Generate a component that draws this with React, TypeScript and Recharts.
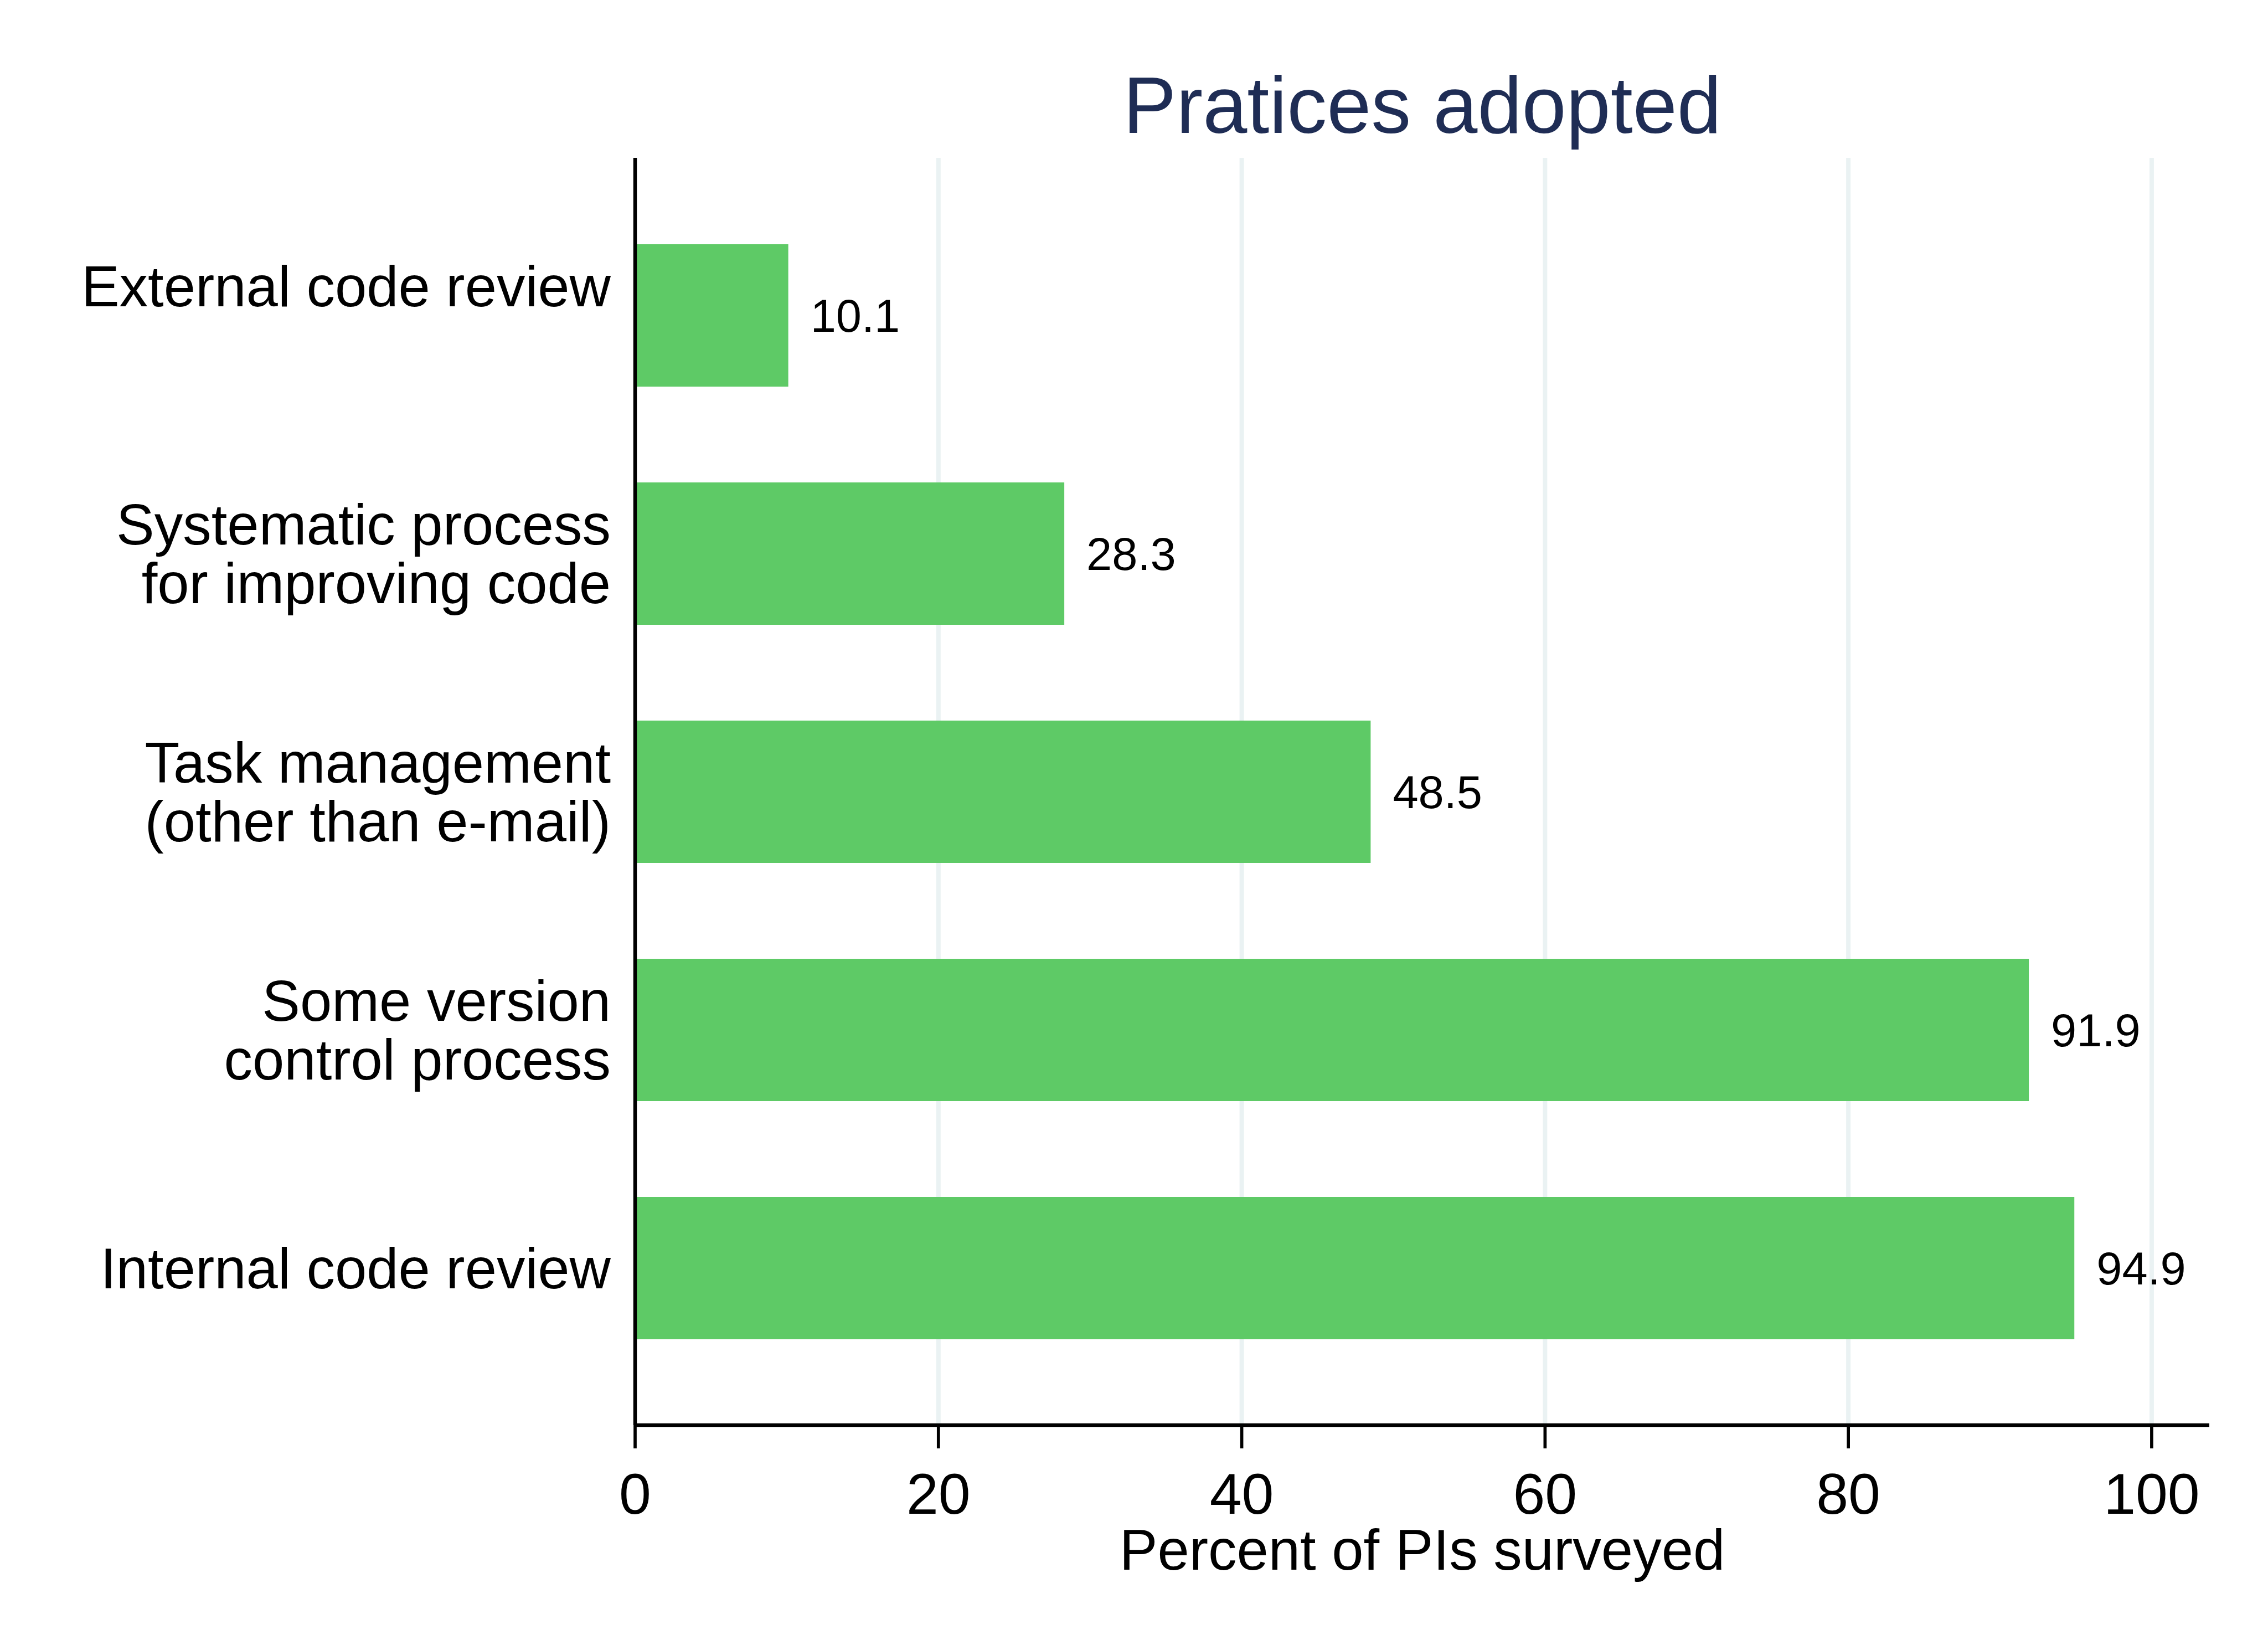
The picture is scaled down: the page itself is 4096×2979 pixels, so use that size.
import React from "react";
import { BarChart, Bar, XAxis, YAxis, CartesianGrid, LabelList } from "recharts";

const categories: string[][] = [
  ["External code review", ""],
  ["Systematic process", "for improving code"],
  ["Task management", "(other than e-mail)"],
  ["Some version", "control process"],
  ["Internal code review"],
];
const values: number[] = [10.1, 28.3, 48.5, 91.9, 94.9];
const xTicks: number[] = [0, 20, 40, 60, 80, 100];
const gridValues: number[] = [20, 40, 60, 80, 100];
const title = "Pratices adopted";
const xTitle = "Percent of PIs surveyed";

const data = categories.map((lines, i) => ({ name: lines.join("\n"), value: values[i] }));

const W = 4096;
const H = 2979;
const FONT = "'Liberation Sans', Arial, Helvetica, sans-serif";
const TICK_FS = 104;
const YLAB_FS = 103;
const LINE_H = 106;
const VAL_FS = 83;
const PLOT_LEFT = 1147;
const PLOT_RIGHT = 3990;
const PLOT_TOP = 285;
const PLOT_BOTTOM = 2573;
const CENTER_X = (PLOT_LEFT + PLOT_RIGHT) / 2;

const YTick = (props: any) => {
  const { y, payload } = props;
  const lines: string[] = String(payload.value).split("\n");
  const n = lines.length;
  const first = y - ((n - 1) * LINE_H) / 2 + 0.358 * YLAB_FS;
  return (
    <text textAnchor="end" fontFamily={FONT} fontSize={YLAB_FS} fill="#000">
      {lines.map((l, i) => (
        <tspan key={i} x={1103} y={first + i * LINE_H}>
          {l}
        </tspan>
      ))}
    </text>
  );
};

const XTick = (props: any) => {
  const { x, payload } = props;
  return (
    <text x={x} y={2733} textAnchor="middle" fontFamily={FONT} fontSize={TICK_FS} fill="#000">
      {payload.value}
    </text>
  );
};

const ValueLabel = (props: any) => {
  const { x, y, width, height, value } = props;
  return (
    <text
      x={x + width + 40}
      y={y + height / 2 + 0.358 * VAL_FS}
      textAnchor="start"
      fontFamily={FONT}
      fontSize={VAL_FS}
      fill="#000"
    >
      {Number(value).toFixed(1)}
    </text>
  );
};

export default function App() {
  return (
    <div style={{ position: "absolute", left: 0, top: 0, width: W, height: H, background: "#fff" }}>
      <BarChart
        width={W}
        height={H}
        data={data}
        layout="vertical"
        margin={{ top: PLOT_TOP, right: W - PLOT_RIGHT, bottom: 0, left: 0 }}
      >
        <CartesianGrid
          horizontal={false}
          vertical={true}
          verticalValues={gridValues}
          stroke="#EAF2F3"
          strokeWidth={8}
        />
        <XAxis
          type="number"
          domain={[0, 103.8]}
          ticks={xTicks}
          allowDataOverflow
          height={H - PLOT_BOTTOM}
          axisLine={{ stroke: "#000", strokeWidth: 6.3 }}
          tickLine={{ stroke: "#000", strokeWidth: 5.7 }}
          tickSize={42}
          tick={<XTick />}
          interval={0}
        />
        <YAxis
          type="category"
          dataKey="name"
          width={PLOT_LEFT}
          padding={{ top: 69, bottom: 69 }}
          axisLine={{ stroke: "#000", strokeWidth: 6.5 }}
          tickLine={false}
          tick={<YTick />}
          interval={0}
        />
        <Bar dataKey="value" fill="#5ECA66" barSize={257} isAnimationActive={false}>
          <LabelList dataKey="value" content={<ValueLabel />} />
        </Bar>
      </BarChart>
      <svg
        width={W}
        height={H}
        style={{ position: "absolute", left: 0, top: 0, pointerEvents: "none" }}
      >
        <text x={CENTER_X} y={240} textAnchor="middle" fontFamily={FONT} fontSize={144} fill="#1F2D55">
          {title}
        </text>
        <text x={CENTER_X} y={2834} textAnchor="middle" fontFamily={FONT} fontSize={103} fill="#000">
          {xTitle}
        </text>
      </svg>
    </div>
  );
}
